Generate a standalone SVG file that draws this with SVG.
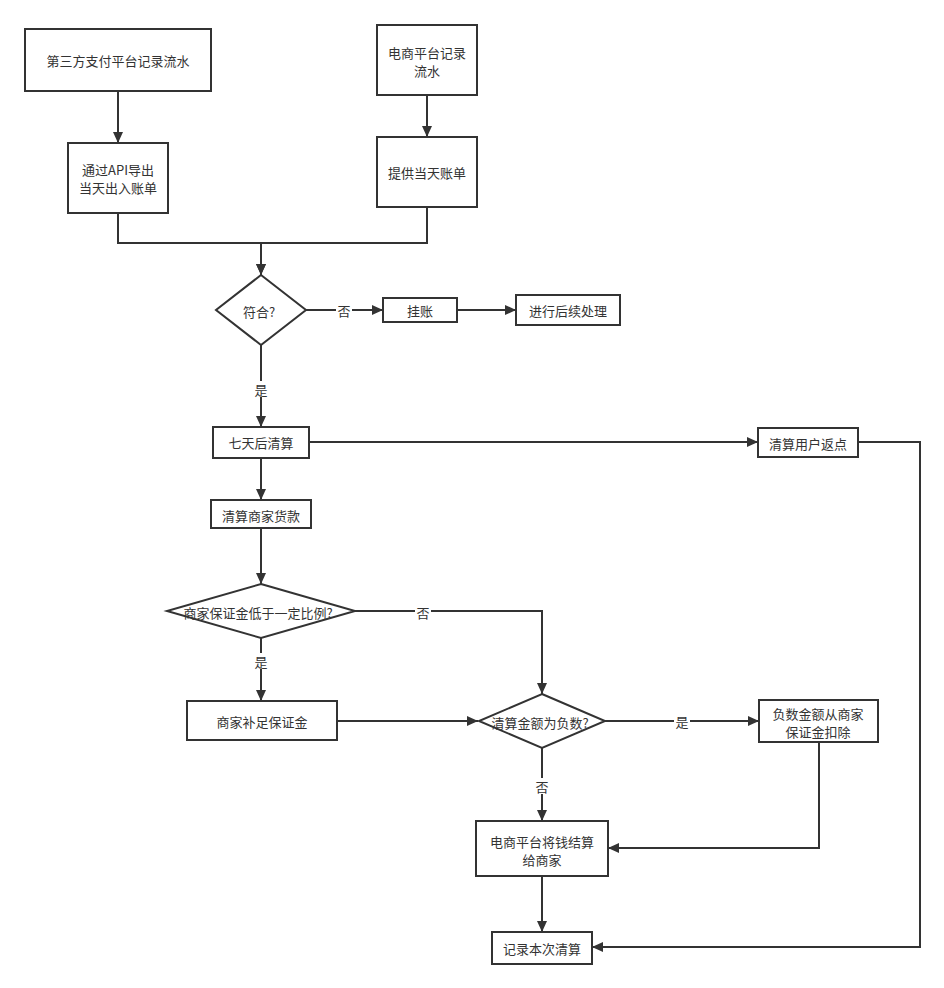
<svg xmlns="http://www.w3.org/2000/svg" width="944" height="988" viewBox="0 0 944 988">
<defs>
<marker id="arr" markerUnits="userSpaceOnUse" markerWidth="11" markerHeight="10" refX="11" refY="5" orient="auto">
<path d="M0,0 L11,5 L0,10 z" fill="#333"/>
</marker>
<style>
.n{fill:#fff;stroke:#333;stroke-width:2}
.t{font-family:"Microsoft YaHei","Noto Sans CJK SC",sans-serif;font-size:13px;fill:#333;text-anchor:middle;dominant-baseline:central}
.e{fill:none;stroke:#333;stroke-width:2;marker-end:url(#arr)}
.lb{fill:#fff}
</style>
</defs>
<rect width="944" height="988" fill="#fff"/>
<g id="edges">
<path class="e" d="M118,91 V143"/>
<path class="e" d="M427,95 V137"/>
<path class="e" d="M118,213 V243 H261 V275"/>
<path class="e" d="M427,207 V243 H261 V275"/>
<path class="e" d="M306,310 H383"/>
<path class="e" d="M457,310 H516"/>
<path class="e" d="M261,345 V427"/>
<path class="e" d="M261,458 V500"/>
<path class="e" d="M309,442 H758"/>
<path class="e" d="M858,442 H920 V947 H592"/>
<path class="e" d="M261,528 V584"/>
<path class="e" d="M355,611 H542 V694"/>
<path class="e" d="M261,638 V701"/>
<path class="e" d="M337,721 H478"/>
<path class="e" d="M605,721 H759"/>
<path class="e" d="M542,748 V821"/>
<path class="e" d="M819,742 V848 H608"/>
<path class="e" d="M542,876 V932"/>
<rect class="lb" x="336" y="302" width="16" height="16"/><text class="t" x="344" y="310">否</text>
<rect class="lb" x="253" y="381" width="16" height="16"/><text class="t" x="261" y="389">是</text>
<rect class="lb" x="415" y="603" width="16" height="16"/><text class="t" x="423" y="612">否</text>
<rect class="lb" x="253" y="653" width="16" height="16"/><text class="t" x="261" y="661">是</text>
<rect class="lb" x="674" y="713" width="16" height="16"/><text class="t" x="682" y="721">是</text>
<rect class="lb" x="534" y="778" width="16" height="16"/><text class="t" x="542" y="786">否</text>
</g>
<g id="n1"><rect class="n" x="25" y="29" width="186" height="62"/><text class="t" x="118" y="60">第三方支付平台记录流水</text></g>
<g id="n2"><rect class="n" x="377" y="25" width="100" height="70"/><text class="t" x="427" y="52">电商平台记录</text><text class="t" x="427" y="70">流水</text></g>
<g id="n3"><rect class="n" x="68" y="143" width="100" height="70"/><text class="t" x="118" y="169">通过API导出</text><text class="t" x="118" y="187">当天出入账单</text></g>
<g id="n4"><rect class="n" x="377" y="137" width="100" height="70"/><text class="t" x="427" y="172">提供当天账单</text></g>
<g id="d1"><path class="n" d="M261,275 L306,310 L261,345 L216,310 Z"/><text class="t" x="259" y="311">符合?</text></g>
<g id="n5"><rect class="n" x="383" y="298" width="74" height="24"/><text class="t" x="420" y="310">挂账</text></g>
<g id="n6"><rect class="n" x="516" y="295" width="104" height="30"/><text class="t" x="568" y="310">进行后续处理</text></g>
<g id="n7"><rect class="n" x="213" y="427" width="96" height="31"/><text class="t" x="261" y="442">七天后清算</text></g>
<g id="n8"><rect class="n" x="758" y="428" width="100" height="29"/><text class="t" x="808" y="443">清算用户返点</text></g>
<g id="n9"><rect class="n" x="211" y="500" width="100" height="28"/><text class="t" x="261" y="515">清算商家货款</text></g>
<g id="d2"><path class="n" d="M261,584 L355,611 L261,638 L167,611 Z"/><text class="t" x="258" y="612">商家保证金低于一定比例?</text></g>
<g id="n10"><rect class="n" x="187" y="701" width="150" height="39"/><text class="t" x="262" y="721">商家补足保证金</text></g>
<g id="d3"><path class="n" d="M542,694 L605,721 L542,748 L479,721 Z"/><text class="t" x="540" y="722">清算金额为负数?</text></g>
<g id="n11"><rect class="n" x="759" y="700" width="119" height="42"/><text class="t" x="818" y="713">负数金额从商家</text><text class="t" x="818" y="731">保证金扣除</text></g>
<g id="n12"><rect class="n" x="476" y="821" width="132" height="55"/><text class="t" x="542" y="841">电商平台将钱结算</text><text class="t" x="542" y="859">给商家</text></g>
<g id="n13"><rect class="n" x="492" y="932" width="100" height="32"/><text class="t" x="542" y="948">记录本次清算</text></g>
</svg>
